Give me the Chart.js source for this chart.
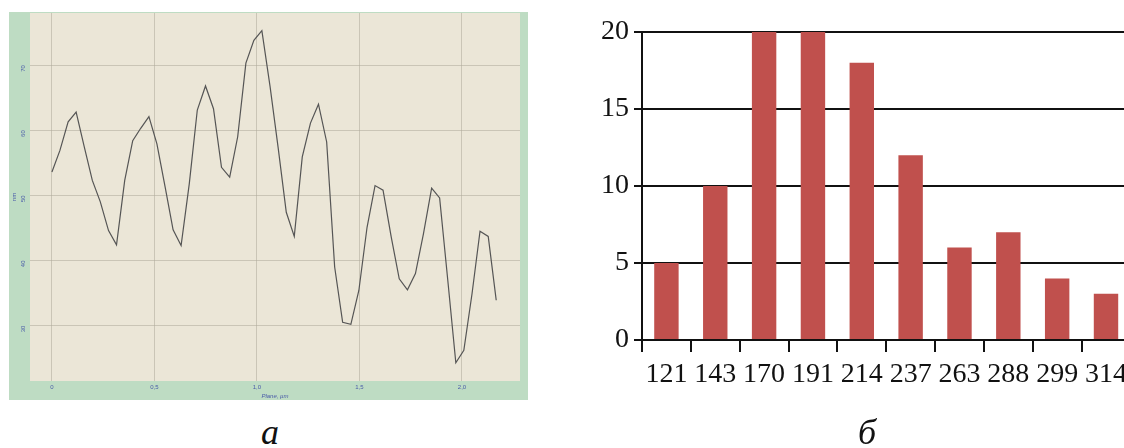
<!DOCTYPE html>
<html>
<head>
<meta charset="utf-8">
<script src="https://cdn.jsdelivr.net/npm/chart.js@4/dist/chart.umd.min.js"></script>
<style>
  html, body { margin: 0; padding: 0; background: #fff; }
  body { width: 1124px; height: 448px; overflow: hidden; position: relative; }
  #profil { position: absolute; left: 9px; top: 12px; background: #bedcc3; }
  #histo { position: absolute; left: 560px; top: 0; }
  .letra { position: absolute; top: 411px; width: 40px; text-align: center; font: italic 36px "Liberation Serif", serif; color: #111; }
</style>
</head>
<body>
<canvas id="profil" width="519" height="388"></canvas>
<canvas id="histo" width="573" height="448"></canvas>
<div class="letra" style="left:250px">а</div>
<div class="letra" style="left:847px">б</div>
<script>
// perfil (panel a)
const distancia = [0, 0.039, 0.079, 0.118, 0.158, 0.197, 0.236, 0.276, 0.315, 0.355,
  0.394, 0.433, 0.473, 0.512, 0.552, 0.591, 0.630, 0.670, 0.709, 0.749,
  0.788, 0.827, 0.867, 0.906, 0.946, 0.985, 1.024, 1.064, 1.103, 1.143,
  1.182, 1.221, 1.261, 1.300, 1.340, 1.379, 1.418, 1.458, 1.497, 1.537,
  1.576, 1.615, 1.655, 1.694, 1.734, 1.773, 1.812, 1.852, 1.891, 1.931,
  1.970, 2.009, 2.049, 2.088, 2.128, 2.167];
const altura = [53.6, 56.9, 61.3, 62.8, 57.4, 52.3, 49.0, 44.6, 42.4, 52.3,
  58.4, 60.3, 62.1, 57.9, 51.3, 44.7, 42.3, 51.8, 63.1, 66.8,
  63.3, 54.3, 52.8, 59.0, 70.3, 73.8, 75.3, 66.7, 57.4, 47.4,
  43.7, 55.9, 61.1, 64.0, 58.2, 39.0, 30.5, 30.2, 35.4, 45.1,
  51.5, 50.8, 43.6, 37.2, 35.5, 38.0, 44.1, 51.1, 49.6, 36.9,
  24.3, 26.2, 34.9, 44.5, 43.7, 33.9];
const ticksX = [0, 0.5, 1.0, 1.5, 2.0];
const ticksY = [30, 40, 50, 60, 70];

// histograma (panel b)
const clases = ['121', '143', '170', '191', '214', '237', '263', '288', '299', '314'];
const frecuencia = [5, 10, 20, 20, 18, 12, 6, 7, 4, 3];

const fondoBeige = {
  id: 'fondoBeige',
  beforeDraw(chart) {
    const a = chart.chartArea;
    chart.ctx.save();
    chart.ctx.fillStyle = '#ebe6d7';
    chart.ctx.fillRect(a.left, a.top, a.right - a.left, a.bottom - a.top);
    chart.ctx.restore();
  }
};

const azul = '#4a5ba8';
const rejilla = 'rgba(175,170,155,0.55)';

new Chart(document.getElementById('profil'), {
  type: 'line',
  data: {
    datasets: [{
      data: distancia.map((x, i) => ({ x, y: altura[i] })),
      borderColor: '#555',
      borderWidth: 1.2,
      pointRadius: 0,
      tension: 0
    }]
  },
  options: {
    responsive: false,
    animation: false,
    layout: { padding: { top: 1, right: 8, left: 0, bottom: 0 } },
    plugins: { legend: { display: false }, tooltip: { enabled: false } },
    scales: {
      x: {
        type: 'linear',
        min: -0.107, max: 2.283,
        afterBuildTicks: s => { s.ticks = ticksX.map(v => ({ value: v })); },
        afterFit: s => { s.height = 19; s.paddingLeft = 0; s.paddingRight = 0; },
        grid: { color: rejilla, drawTicks: false },
        border: { display: false },
        ticks: {
          padding: 3, color: azul, font: { size: 6 },
          callback: v => v === 0 ? '0' : v.toFixed(1).replace('.', ',')
        },
        title: { display: true, text: 'Plane, µm', color: azul, font: { size: 6, style: 'italic' }, padding: 0 }
      },
      y: {
        min: 21.5, max: 78,
        afterBuildTicks: s => { s.ticks = ticksY.map(v => ({ value: v })); },
        afterFit: s => { s.width = 21; s.paddingTop = 0; s.paddingBottom = 0; },
        grid: { color: rejilla, drawTicks: false },
        border: { display: false },
        ticks: { padding: 7, color: azul, font: { size: 6 }, minRotation: 90, maxRotation: 90 },
        title: { display: true, text: 'nm', color: azul, font: { size: 6 }, padding: 2 }
      }
    }
  },
  plugins: [fondoBeige]
});

const serif = '"Liberation Serif", "Times New Roman", serif';

new Chart(document.getElementById('histo'), {
  type: 'bar',
  data: {
    labels: clases,
    datasets: [{
      data: frecuencia,
      backgroundColor: '#c0504d',
      barPercentage: 0.5,
      categoryPercentage: 1.0
    }]
  },
  options: {
    responsive: false,
    animation: false,
    layout: { padding: { top: 32, right: 0, left: 0, bottom: 0 } },
    plugins: { legend: { display: false }, tooltip: { enabled: false } },
    scales: {
      x: {
        afterFit: s => { s.height = 108; },
        grid: { display: true, drawOnChartArea: false, drawTicks: true, tickLength: 12, color: '#111', lineWidth: 2 },
        border: { display: true, color: '#111', width: 2 },
        ticks: { padding: 6, color: '#111', font: { family: serif, size: 28 }, maxRotation: 0, autoSkip: false }
      },
      y: {
        min: 0, max: 20,
        ticks: { stepSize: 5, padding: 5, color: '#111', font: { family: serif, size: 28 } },
        afterFit: s => { s.width = 82; },
        grid: { color: '#111', lineWidth: 2, tickLength: 8 },
        border: { display: true, color: '#111', width: 2 }
      }
    }
  }
});
</script>
</body>
</html>
